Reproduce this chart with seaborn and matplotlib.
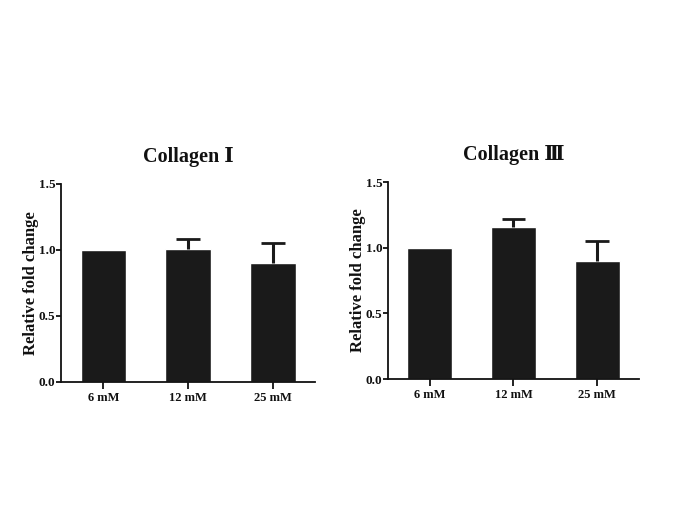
import matplotlib
matplotlib.use("Agg")
import matplotlib.pyplot as plt
import numpy as np
import pandas as pd
import seaborn as sns

# data
doses = ["6 mM", "12 mM", "25 mM"]
col1_mean = [1.00, 1.01, 0.90]
col1_err = [0.0, 0.075, 0.155]
col3_mean = [1.00, 1.16, 0.90]
col3_err = [0.0, 0.055, 0.15]
titles = ["Collagen \u2160", "Collagen \u2162"]
yticks = [0.0, 0.5, 1.0, 1.5]

sns.set_theme(style="ticks", rc={"text.color": "#111111", "axes.labelcolor": "#111111",
                                 "xtick.color": "#111111", "ytick.color": "#111111"})
plt.rcParams["font.family"] = ["Liberation Serif", "DejaVu Serif", "Noto Sans CJK SC", "DejaVu Sans"]
plt.rcParams["font.weight"] = "bold"

fig = plt.figure(figsize=(6.85, 5.13), dpi=100)
ax1 = fig.add_axes([0.0891, 0.2554, 0.3708, 0.3860])
ax2 = fig.add_axes([0.5664, 0.2612, 0.3664, 0.3840])


def draw_panel(ax, means, errs, title):
	df = pd.DataFrame({"dose": doses, "value": means})
	sns.barplot(data=df, x="dose", y="value", color="#1a1a1a", width=0.54,
	            saturation=1, ax=ax, errorbar=None)
	# one-sided (upper) error bars, skip groups without error
	idx = [i for i, e in enumerate(errs) if e > 0]
	for i in idx:
		ax.vlines(i, means[i], means[i] + errs[i], color="#1a1a1a", lw=2.2)
		ax.hlines(means[i] + errs[i], i - 0.14, i + 0.14, color="#1a1a1a", lw=2.0)
	ax.set_xlim(-0.5, 2.5)
	ax.set_ylim(0, 1.5)
	ax.set_yticks(yticks)
	ax.set_yticklabels([f"{t:.1f}" for t in yticks], fontsize=9.5, fontweight="bold")
	ax.set_xticks(range(len(doses)))
	ax.set_xticklabels(doses, fontsize=9, fontweight="bold")
	ax.set_xlabel("")
	ax.set_ylabel("Relative fold change", fontsize=12, fontweight="bold", labelpad=0)
	ax.set_title(title, fontsize=14.5, fontweight="bold", pad=16)
	sns.despine(ax=ax)
	for side in ["left", "bottom"]:
		ax.spines[side].set_linewidth(1.3)
		ax.spines[side].set_color("#111111")
	ax.tick_params(axis="y", length=3.5, width=1.3, color="#111111", pad=0.5)
	ax.tick_params(axis="x", length=5, width=1.3, color="#111111", pad=2)
	ax.set_facecolor("white")


draw_panel(ax1, col1_mean, col1_err, titles[0])
draw_panel(ax2, col3_mean, col3_err, titles[1])

fig.savefig("out.png", dpi=100, facecolor="white")
